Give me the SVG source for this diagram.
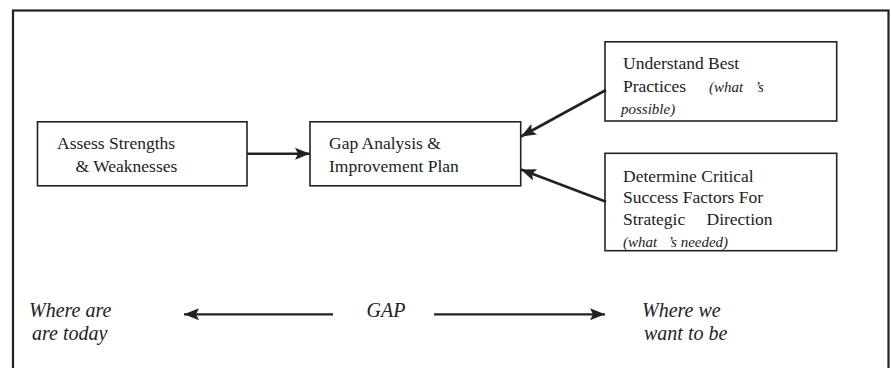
<svg xmlns="http://www.w3.org/2000/svg" width="891" height="368" viewBox="0 0 891 368">
<style>
text{font-family:'Liberation Serif','Times New Roman','DejaVu Serif',serif;fill:#222}
.t{font-size:17.5px}
.i{font-size:15px;font-style:italic}
.b{font-size:20px;font-style:italic}
.box{fill:#fff;stroke:#222;stroke-width:1.6}
.c{stroke:#222;stroke-width:2.6;fill:none}
.g{stroke:#222;stroke-width:2.2;fill:none}
</style>
<defs>
<marker id="ah" markerUnits="userSpaceOnUse" markerWidth="16" markerHeight="14" refX="15" refY="7" orient="auto">
<path d="M0,1 L15,7 L0,13 L3,7 Z" fill="#222"/>
</marker>
</defs>
<rect x="13" y="10.5" width="875.5" height="370" fill="#fff" stroke="#222" stroke-width="2.2"/>
<g id="assess">
<rect class="box" x="37.5" y="121.8" width="209.5" height="64"/>
<text class="t" x="57" y="149">Assess Strengths</text>
<text class="t" x="75.5" y="171.7">&amp; Weaknesses</text>
</g>
<g id="gap">
<rect class="box" x="310" y="121.8" width="210.7" height="64"/>
<text class="t" x="329" y="149.3">Gap Analysis &amp;</text>
<text class="t" x="329" y="171.7">Improvement Plan</text>
</g>
<g id="best">
<rect class="box" x="605" y="41.8" width="231.7" height="79.2"/>
<text class="t" x="623" y="69.3">Understand Best</text>
<text class="t" x="623" y="91.7">Practices</text>
<text class="i" x="709" y="91.7">(what</text>
<text class="i" x="755" y="91.7">’s</text>
<text class="i" x="621" y="114">possible)</text>
</g>
<g id="csf">
<rect class="box" x="605" y="153.3" width="231.7" height="97.4"/>
<text class="t" x="623" y="181.7">Determine Critical</text>
<text class="t" x="623" y="202.7">Success Factors For</text>
<text class="t" x="623" y="225">Strategic</text>
<text class="t" x="706.5" y="225">Direction</text>
<text class="i" x="623" y="247.3">(what</text>
<text class="i" x="668" y="247.3">’s needed)</text>
</g>
<g id="labels">
<text class="b" x="29" y="317.3">Where are</text>
<text class="b" x="32" y="340">are today</text>
<text class="b" x="366.5" y="316.7">GAP</text>
<text class="b" x="642" y="317">Where we</text>
<text class="b" x="644" y="340">want to be</text>
</g>
<g id="connectors">
<line class="c" x1="247" y1="153.7" x2="310" y2="153.7" marker-end="url(#ah)"/>
<line class="c" x1="606" y1="90" x2="521" y2="136.5" marker-end="url(#ah)"/>
<line class="c" x1="606" y1="201.7" x2="521" y2="169.5" marker-end="url(#ah)"/>
<line class="g" x1="333" y1="314.3" x2="184" y2="314.3" marker-end="url(#ah)"/>
<line class="g" x1="434" y1="314.3" x2="605" y2="314.3" marker-end="url(#ah)"/>
</g>
</svg>
